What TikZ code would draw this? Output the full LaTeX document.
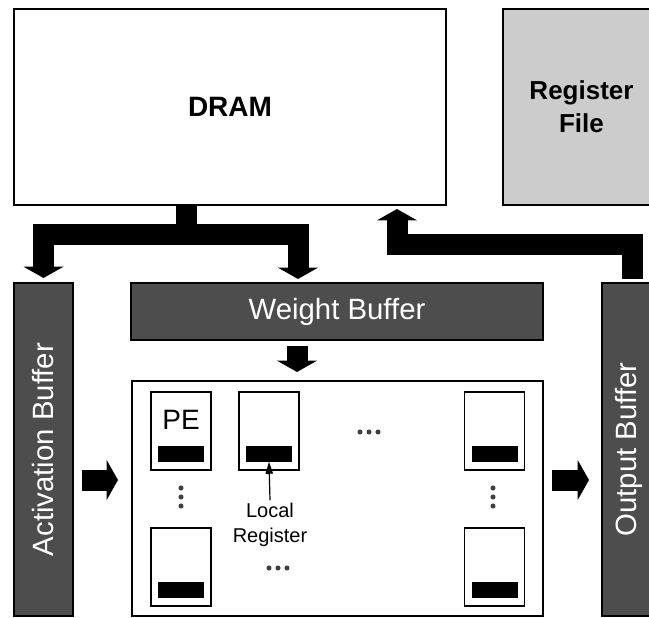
\documentclass[tikz,border=0pt]{standalone}
\usepackage{fontspec}
\setmainfont{Liberation Sans}
\usetikzlibrary{arrows.meta,positioning}
\definecolor{bufgray}{HTML}{4D4D4D}
\definecolor{rfgray}{HTML}{CCCCCC}
\definecolor{dotgray}{HTML}{404040}

\begin{document}
\begin{tikzpicture}[x=0.75pt, y=-0.75pt,
    box/.style={draw, line width=1.5pt, rectangle, inner sep=0pt},
    buffer/.style={box, fill=bufgray, text=white, font=\fontsize{22}{26}\selectfont},
    pebox/.style={box, line width=1.2pt, minimum width=45pt, minimum height=58.5pt},
    regbar/.style={fill=black, rectangle, minimum width=34.5pt, minimum height=12pt, inner sep=0pt},
    blockarrow/.style={line width=15.75pt, line join=miter,
        -{Triangle[width=30pt, length=8.5pt, line width=0pt]}}]
    \useasboundingbox (0,0) rectangle (649,617);
    \clip (0,0) rectangle (649,617);

    % memories
    \node[box, minimum width=324pt, minimum height=147pt,
        font=\fontsize{21}{25}\selectfont\bfseries] (dram) at (230,107) {DRAM};
    \node[box, fill=rfgray, minimum width=117.75pt, minimum height=147pt, align=center,
        font=\fontsize{19.5}{25}\selectfont\bfseries] (rf) at (581.5,107) {Register\\File};

    % buffers
    \node[buffer, minimum width=44.25pt, minimum height=249.75pt] (ab) at (43.5,449.5)
        {\rotatebox{90}{Activation Buffer}};
    \node[buffer, minimum width=309pt, minimum height=42.75pt] (wb) at (337,311.5)
        {Weight Buffer};
    \node[buffer, minimum width=39.75pt, minimum height=249.75pt] (ob) at (628.5,449.5)
        {\rotatebox{90}{Output Buffer}};

    % PE array
    \node[box, minimum width=308.25pt, minimum height=176.25pt] (pea) at (337.5,498.5) {};
    \foreach \n/\x/\y in {pe11/181/431, pe12/269/431, pe13/494.5/431,
                          pe21/181/567, pe23/494.5/567} {
        \node[pebox] (\n) at (\x,\y) {};
        \node[regbar] (\n-r) at (\x,\y+22.5) {};
    }
    \node[font=\fontsize{21}{25}\selectfont, inner sep=0pt] (pelabel) at (181,420) {PE};

    % dots
    \foreach \x in {360,369,378} \fill[dotgray] (\x,432) circle (1.9pt);
    \foreach \x in {269,278,287} \fill[dotgray] (\x,568) circle (1.9pt);
    \foreach \y in {488,497,506} {
        \fill[dotgray] (181,\y) circle (1.9pt);
        \fill[dotgray] (493,\y) circle (1.9pt);
    }

    % local register label
    \node[align=center, inner sep=0pt, font=\fontsize{15}{18.75}\selectfont] (lreg) at (270,525)
        {Local\\Register};
    \draw[line width=0.9pt, -{Triangle[width=5.5pt, length=9pt]}]
        ([yshift=2pt]lreg.north) -- (pe12-r.south);

    % data movement
    \coordinate (split) at (186,234.5);
    \coordinate (wbin) at (298,279);
    \coordinate (obout) at (632,279);
    \coordinate (ret) at (397,244);
    \coordinate (rettip) at (397,209);
    \draw[blockarrow] (dram.south -| split) -- (split) -| ([yshift=3pt]ab.north);
    \draw[blockarrow] (dram.south -| split) -- (split) -| (wbin);
    \draw[blockarrow] (obout) |- (ret) -- (rettip);

    \coordinate (wbout) at (297,346);
    \coordinate (peain) at (297,372);
    \draw[blockarrow] (wbout) -- (peain);

    \coordinate (actfrom) at (82,480);
    \coordinate (actto) at (118,480);
    \draw[blockarrow] (actfrom) -- (actto);

    \coordinate (outfrom) at (552,480);
    \coordinate (outto) at (589,480);
    \draw[blockarrow] (outfrom) -- (outto);
\end{tikzpicture}
\end{document}
